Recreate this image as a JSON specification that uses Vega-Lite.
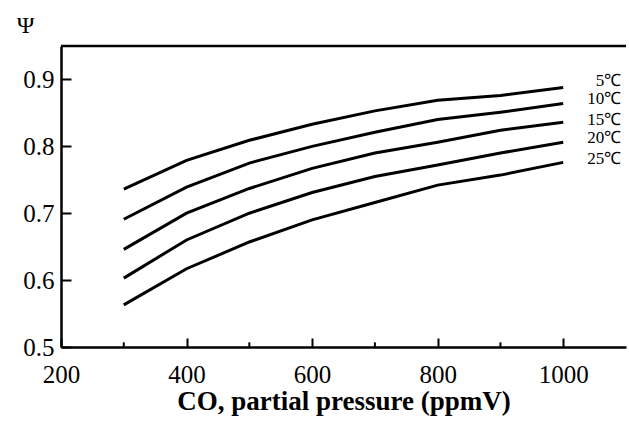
{
  "$schema": "https://vega.github.io/schema/vega-lite/v6.json",
  "width": 565,
  "height": 301,
  "autosize": "none",
  "padding": {"left": 61, "top": 46, "right": 3, "bottom": 77},
  "background": "white",
  "config": {
    "view": {"stroke": null},
    "font": "Liberation Serif",
    "axis": {"grid": false, "domainColor": "black", "tickColor": "black", "labelColor": "black", "titleColor": "black", "labelFont": "Liberation Serif", "titleFont": "Liberation Serif"}
  },
  "datasets": {
    "curves": [
      {"temp": "5", "co2": 300, "psi": 0.736}, {"temp": "5", "co2": 400, "psi": 0.779}, {"temp": "5", "co2": 500, "psi": 0.809}, {"temp": "5", "co2": 600, "psi": 0.833},
      {"temp": "5", "co2": 700, "psi": 0.853}, {"temp": "5", "co2": 800, "psi": 0.869}, {"temp": "5", "co2": 900, "psi": 0.876}, {"temp": "5", "co2": 1000, "psi": 0.888},
      {"temp": "10", "co2": 300, "psi": 0.691}, {"temp": "10", "co2": 400, "psi": 0.739}, {"temp": "10", "co2": 500, "psi": 0.775}, {"temp": "10", "co2": 600, "psi": 0.8},
      {"temp": "10", "co2": 700, "psi": 0.821}, {"temp": "10", "co2": 800, "psi": 0.84}, {"temp": "10", "co2": 900, "psi": 0.851}, {"temp": "10", "co2": 1000, "psi": 0.864},
      {"temp": "15", "co2": 300, "psi": 0.646}, {"temp": "15", "co2": 400, "psi": 0.7}, {"temp": "15", "co2": 500, "psi": 0.737}, {"temp": "15", "co2": 600, "psi": 0.767},
      {"temp": "15", "co2": 700, "psi": 0.79}, {"temp": "15", "co2": 800, "psi": 0.806}, {"temp": "15", "co2": 900, "psi": 0.824}, {"temp": "15", "co2": 1000, "psi": 0.836},
      {"temp": "20", "co2": 300, "psi": 0.603}, {"temp": "20", "co2": 400, "psi": 0.66}, {"temp": "20", "co2": 500, "psi": 0.7}, {"temp": "20", "co2": 600, "psi": 0.731},
      {"temp": "20", "co2": 700, "psi": 0.755}, {"temp": "20", "co2": 800, "psi": 0.772}, {"temp": "20", "co2": 900, "psi": 0.79}, {"temp": "20", "co2": 1000, "psi": 0.806},
      {"temp": "25", "co2": 300, "psi": 0.563}, {"temp": "25", "co2": 400, "psi": 0.617}, {"temp": "25", "co2": 500, "psi": 0.657}, {"temp": "25", "co2": 600, "psi": 0.69},
      {"temp": "25", "co2": 700, "psi": 0.716}, {"temp": "25", "co2": 800, "psi": 0.742}, {"temp": "25", "co2": 900, "psi": 0.757}, {"temp": "25", "co2": 1000, "psi": 0.776}
    ],
    "labels": [
      {"label": "5℃", "co2": 1000, "psi": 0.897},
      {"label": "10℃", "co2": 1000, "psi": 0.871},
      {"label": "15℃", "co2": 1000, "psi": 0.839},
      {"label": "20℃", "co2": 1000, "psi": 0.813},
      {"label": "25℃", "co2": 1000, "psi": 0.781}
    ],
    "minor": [
      {"co2": 300}, {"co2": 500}, {"co2": 700}, {"co2": 900}
    ]
  },
  "layer": [
    {
      "data": {"name": "curves"},
      "mark": {"type": "line", "color": "black", "strokeWidth": 3},
      "encoding": {
        "x": {
          "field": "co2", "type": "quantitative",
          "scale": {"domain": [200, 1100], "nice": false, "zero": false},
          "axis": {
            "values": [200, 400, 600, 800, 1000], "format": "d",
            "tickSize": -9, "tickWidth": 2, "domainWidth": 2.5,
            "labelFontSize": 25, "labelPadding": 24, "labelFlush": false,
            "title": "CO, partial pressure (ppmV)", "titleFontSize": 27, "titleFontWeight": "bold", "titlePadding": 1
          }
        },
        "y": {
          "field": "psi", "type": "quantitative",
          "scale": {"domain": [0.5, 0.95], "nice": false, "zero": false},
          "axis": {
            "values": [0.5, 0.6, 0.7, 0.8, 0.9], "format": ".1f",
            "tickSize": -10, "tickWidth": 2, "domainWidth": 2.5,
            "labelFontSize": 25, "labelPadding": 17, "labelFlush": false,
            "title": "Ψ", "titleAngle": 0, "titleFontSize": 24, "titleFontWeight": "normal",
            "titleX": -36, "titleY": -14, "titleAlign": "center", "titleBaseline": "alphabetic"
          }
        },
        "detail": {"field": "temp"}
      }
    },
    {
      "data": {"values": [{}]},
      "mark": {"type": "rule", "color": "black", "strokeWidth": 2.5},
      "encoding": {"y": {"datum": 0.95, "type": "quantitative"}}
    },
    {
      "data": {"name": "minor"},
      "mark": {"type": "rule", "color": "black", "strokeWidth": 2},
      "encoding": {
        "x": {"field": "co2", "type": "quantitative"},
        "y": {"datum": 0.5, "type": "quantitative"},
        "y2": {"datum": 0.507}
      }
    },
    {
      "data": {"name": "labels"},
      "mark": {"type": "text", "align": "right", "baseline": "middle", "dx": 58, "fontSize": 17, "font": "Liberation Serif", "color": "black"},
      "encoding": {
        "x": {"field": "co2", "type": "quantitative"},
        "y": {"field": "psi", "type": "quantitative"},
        "text": {"field": "label"}
      }
    }
  ]
}
